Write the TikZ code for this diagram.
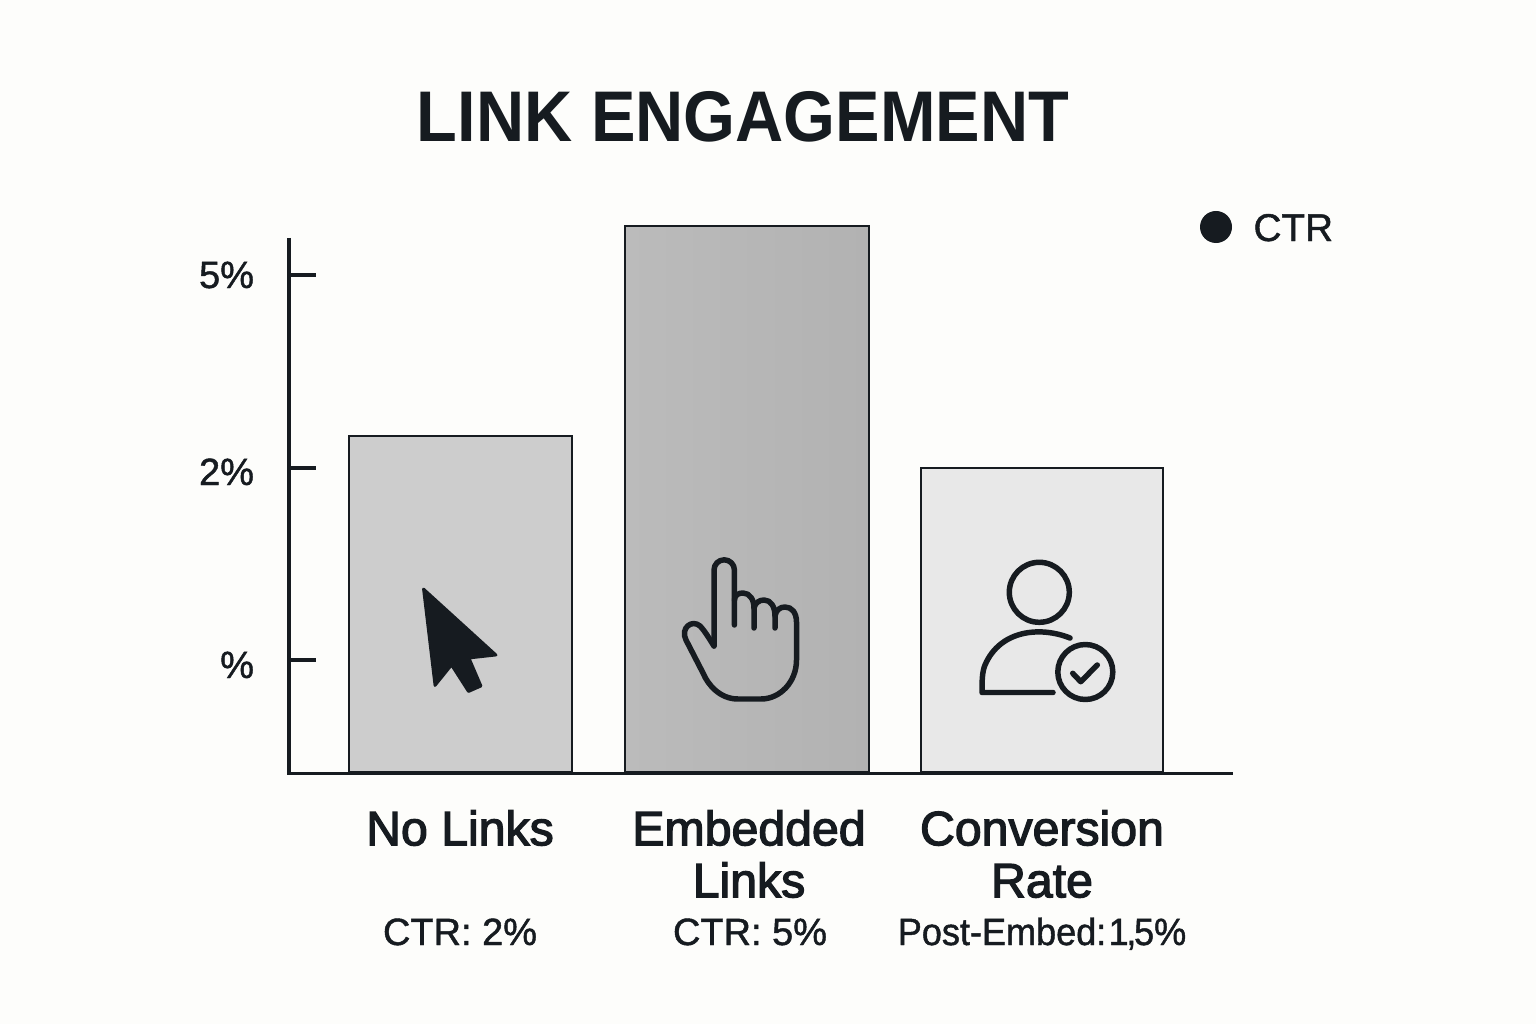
\documentclass[tikz,border=0pt]{standalone}
\usepackage{fontspec}
\setmainfont{Liberation Sans}
\newfontfamily\medfont[FakeBold=2.6]{Liberation Sans}
\newfontfamily\lightmedfont[FakeBold=1.2]{Liberation Sans}
\newfontfamily\narrowfont[FakeBold=1.2, FakeStretch=0.95]{Liberation Sans}
\newfontfamily\titlefont[FakeStretch=0.93]{Liberation Sans Bold}
\usetikzlibrary{positioning}
\definecolor{ink}{HTML}{161B20}
\definecolor{paper}{HTML}{FDFDFB}
\definecolor{barone}{HTML}{CDCDCD}
\definecolor{bartwoa}{HTML}{BBBBBB}
\definecolor{bartwob}{HTML}{B2B2B2}
\definecolor{barthree}{HTML}{E8E8E8}
\begin{document}
\begin{tikzpicture}[x=0.025cm, y=-0.025cm, line width=2.2pt, draw=ink, text=ink,
    bar/.style = {draw=ink, line width=2pt, anchor=south, inner sep=0pt},
    ticklabel/.style = {anchor=base east, inner sep=0pt, font=\lightmedfont\fontsize{27}{27}\selectfont},
    catlabel/.style = {align=center, font=\medfont\fontsize{34.3}{37}\selectfont},
    sublabel/.style = {anchor=base, font=\lightmedfont\fontsize{27}{30}\selectfont},
    icon/.style = {line width=3.9pt, line cap=round, line join=round}]
    \fill[paper] (0,0) rectangle (1536,1024);
    \useasboundingbox (0,0) rectangle (1536,1024);

    \node[font=\titlefont\fontsize{51}{51}\selectfont, anchor=base] (title) at (743,142) {LINK ENGAGEMENT};

    \node[bar, fill=barone, minimum width=5.57cm, minimum height=8.4cm] (nolinks) at (460.5,773.5) {};
    \node[bar, left color=bartwoa, right color=bartwob, minimum width=6.1cm, minimum height=13.65cm] (embedded) at (747,773.5) {};
    \node[bar, fill=barthree, minimum width=6.05cm, minimum height=7.6cm] (conversion) at (1042,773.5) {};

    \coordinate (origin) at (289,773.5);
    \coordinate (ytop) at (289,238);
    \coordinate (xend) at (1233,773.5);
    \draw (ytop) -- (origin) -- (xend);

    \coordinate (t5) at (289,275);
    \coordinate (t5e) at (316,275);
    \coordinate (t2) at (289,468);
    \coordinate (t2e) at (316,468);
    \coordinate (t1) at (289,660);
    \coordinate (t1e) at (316,660);
    \draw (t5) -- (t5e);
    \draw (t2) -- (t2e);
    \draw (t1) -- (t1e);
    \node[ticklabel] (l5) at (255.5,288) {5\%};
    \node[ticklabel] (l2) at (255.5,485) {2\%};
    \node[ticklabel] (l1) at (255.5,678) {\%};

    \node[draw=none, fill=ink, circle, minimum size=0.8cm, inner sep=0pt] (dot) at (1216,227) {};
    \node[anchor=base west, inner sep=0pt, font=\lightmedfont\fontsize{27.5}{27.5}\selectfont] (ctr) at (1252,241) {CTR};

    \node[catlabel] (cat1) at (460,828) {No Links};
    \node[catlabel] (cat2) at (749,854) {Embedded\\Links};
    \node[catlabel] (cat3) at (1042,854) {Conversion\\Rate};
    \node[sublabel] (sub1) at (460,945) {CTR: 2\%};
    \node[sublabel] (sub2) at (750,945) {CTR: 5\%};
    \node[sublabel, font=\narrowfont\fontsize{27}{30}\selectfont] (sub3) at (1042,945) {Post-Embed:\kern.06em 1\kern-.06em,\kern-.06em 5\%};

    \fill[ink, draw=ink, line width=2pt, line join=round] (423.5,589) -- (496,655) -- (469,658) -- (481,686)
        -- (468.5,691.5) -- (451.5,665) -- (435,685.5) -- cycle;

    \draw[icon] (714,646) -- (714,570) arc (180:360:10.2) -- (734.4,625);
    \draw[icon] (734.4,600) .. controls (735,595) and (738,593) .. (743,593) .. controls (750,593) and (754,600) .. (754,608) -- (754,628);
    \draw[icon] (754,608) .. controls (755,603) and (759,600) .. (764,600) .. controls (771,600) and (775,607) .. (775,616) -- (775,628);
    \draw[icon] (775,616) .. controls (776,610) and (780,607) .. (785,607) .. controls (792,607) and (796.5,613) .. (796.5,622)
        -- (796.5,660) .. controls (796.5,682) and (780,699) .. (761,699) -- (738,699)
        .. controls (720,699) and (708,685) .. (703,673) -- (686,640)
        .. controls (680,628) and (692,619) .. (700,626) .. controls (705,631) and (710,640) .. (714,646);

    \draw[icon] (1039.3,592.3) circle (30);
    \draw[icon] (1070,638) .. controls (1040,626) and (1000,630) .. (985,665) .. controls (982,672) and (982,682) .. (982,692.5) -- (1053,692.5);
    \draw[icon] (1085.3,672) circle (27.5);
    \draw[icon] (1072.7,673.3) -- (1080.7,681.7) -- (1097.3,665);
\end{tikzpicture}
\end{document}
